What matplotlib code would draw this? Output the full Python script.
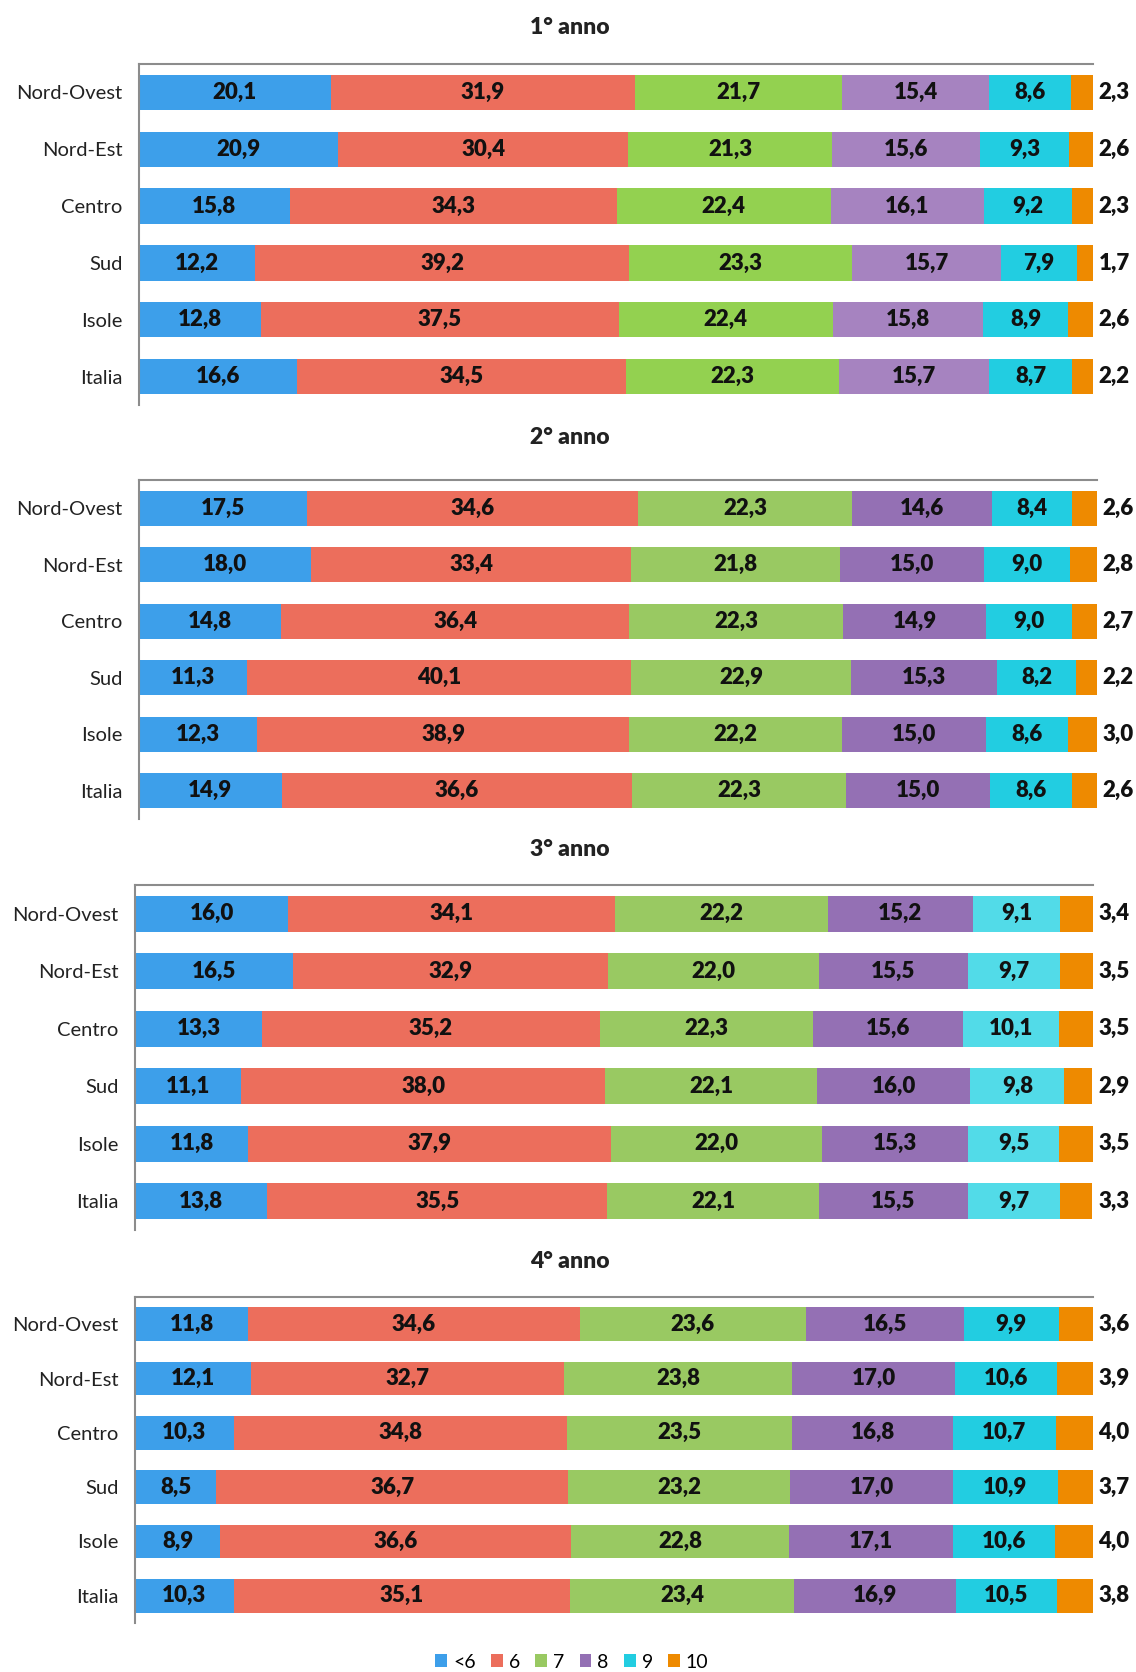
import matplotlib.pyplot as plt
from matplotlib.patches import Patch

plt.rcParams['font.family'] = ['Lato', 'DejaVu Sans']

W, H = 1136, 1672

regions = ['Nord-Ovest', 'Nord-Est', 'Centro', 'Sud', 'Isole', 'Italia']
grades = ['<6', '6', '7', '8', '9', '10']
titles = ['1° anno', '2° anno', '3° anno', '4° anno']

# 1° anno
a1_lt6 = [20.1, 20.9, 15.8, 12.2, 12.8, 16.6]
a1_6 = [31.9, 30.4, 34.3, 39.2, 37.5, 34.5]
a1_7 = [21.7, 21.3, 22.4, 23.3, 22.4, 22.3]
a1_8 = [15.4, 15.6, 16.1, 15.7, 15.8, 15.7]
a1_9 = [8.6, 9.3, 9.2, 7.9, 8.9, 8.7]
a1_10 = [2.3, 2.6, 2.3, 1.7, 2.6, 2.2]

# 2° anno
a2_lt6 = [17.5, 18.0, 14.8, 11.3, 12.3, 14.9]
a2_6 = [34.6, 33.4, 36.4, 40.1, 38.9, 36.6]
a2_7 = [22.3, 21.8, 22.3, 22.9, 22.2, 22.3]
a2_8 = [14.6, 15.0, 14.9, 15.3, 15.0, 15.0]
a2_9 = [8.4, 9.0, 9.0, 8.2, 8.6, 8.6]
a2_10 = [2.6, 2.8, 2.7, 2.2, 3.0, 2.6]

# 3° anno
a3_lt6 = [16.0, 16.5, 13.3, 11.1, 11.8, 13.8]
a3_6 = [34.1, 32.9, 35.2, 38.0, 37.9, 35.5]
a3_7 = [22.2, 22.0, 22.3, 22.1, 22.0, 22.1]
a3_8 = [15.2, 15.5, 15.6, 16.0, 15.3, 15.5]
a3_9 = [9.1, 9.7, 10.1, 9.8, 9.5, 9.7]
a3_10 = [3.4, 3.5, 3.5, 2.9, 3.5, 3.3]

# 4° anno
a4_lt6 = [11.8, 12.1, 10.3, 8.5, 8.9, 10.3]
a4_6 = [34.6, 32.7, 34.8, 36.7, 36.6, 35.1]
a4_7 = [23.6, 23.8, 23.5, 23.2, 22.8, 23.4]
a4_8 = [16.5, 17.0, 16.8, 17.0, 17.1, 16.9]
a4_9 = [9.9, 10.6, 10.7, 10.9, 10.6, 10.5]
a4_10 = [3.6, 3.9, 4.0, 3.7, 4.0, 3.8]

panels = [
    [a1_lt6, a1_6, a1_7, a1_8, a1_9, a1_10],
    [a2_lt6, a2_6, a2_7, a2_8, a2_9, a2_10],
    [a3_lt6, a3_6, a3_7, a3_8, a3_9, a3_10],
    [a4_lt6, a4_6, a4_7, a4_8, a4_9, a4_10],
]

# colours differ slightly between the panels (green/purple/cyan shades)
palettes = [
    ['#3D9FEA', '#EC6E5C', '#93D150', '#A683C0', '#22CDE1', '#EE8A00'],
    ['#3D9FEA', '#EC6E5C', '#99C962', '#9470B4', '#22CDE1', '#EE8A00'],
    ['#3D9FEA', '#EC6E5C', '#99C962', '#9470B4', '#52DBE8', '#EE8A00'],
    ['#3D9FEA', '#EC6E5C', '#99C962', '#9470B4', '#22CDE1', '#EE8A00'],
]

# axes boxes in pixels: left, top, right, bottom ; title y
boxes = [
    (139, 64, 1093, 405, 28),
    (139, 480, 1097, 819, 438),
    (135, 885, 1093, 1230, 850),
    (135, 1297, 1093, 1623, 1261),
]

fig = plt.figure(figsize=(W / 100, H / 100), dpi=100)

for data, cols, (l, t, r, b, ty), title in zip(panels, palettes, boxes, titles):
    ax = fig.add_axes([l / W, 1 - b / H, (r - l) / W, (b - t) / H])
    ypos = list(range(len(regions)))
    left = [0.0] * len(regions)
    for k, (vals, c) in enumerate(zip(data, cols)):
        ax.barh(ypos, vals, left=left, height=0.62, color=c, edgecolor='none')
        for i, v in enumerate(vals):
            txt = f'{v:.1f}'.replace('.', ',')
            if k < 5:
                ax.text(left[i] + v / 2, i, txt, ha='center', va='center',
                        fontsize=16, fontweight='heavy', color='#111111')
            else:
                ax.annotate(txt, xy=(100, i), xytext=(4, 0), textcoords='offset points',
                            ha='left', va='center', fontsize=16, fontweight='heavy',
                            color='#111111', annotation_clip=False)
        left = [a + v for a, v in zip(left, vals)]
    ax.set_xlim(0, 100)
    ax.set_ylim(len(regions) - 0.5, -0.5)
    ax.set_yticks(ypos)
    ax.set_yticklabels(regions, fontsize=14.5, color='#222222')
    ax.set_xticks([])
    ax.tick_params(axis='y', length=0, pad=12)
    for s in ['right', 'bottom']:
        ax.spines[s].set_visible(False)
    for s in ['top', 'left']:
        ax.spines[s].set_color('#8C8C8C')
        ax.spines[s].set_linewidth(1.5)
    fig.text(570 / W, 1 - ty / H, title, ha='center', va='center',
             fontsize=16.5, fontweight='heavy', color='#222222')

handles = [Patch(facecolor=c, edgecolor='none', label=g) for g, c in zip(grades, palettes[1])]
fig.legend(handles=handles, loc='center', bbox_to_anchor=(572 / W, 1 - 1662 / H), ncol=6,
           frameon=False, fontsize=14, handlelength=0.6, handleheight=0.6,
           handletextpad=0.3, columnspacing=0.8)

plt.savefig('out.png', dpi=100, facecolor='white')
plt.close()
